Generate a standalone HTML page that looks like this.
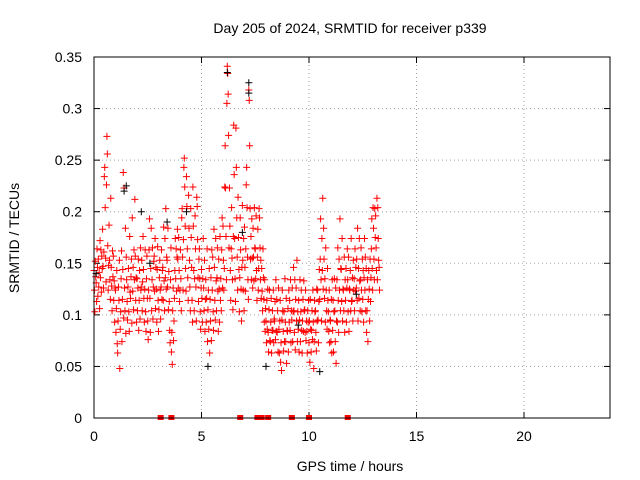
<!DOCTYPE html>
<html><head><meta charset="utf-8"><style>
body{margin:0;background:#fff}
svg{display:block;font-family:"Liberation Sans",sans-serif}
</style></head><body>
<svg id="c" width="640" height="480">
<rect width="640" height="480" fill="#fff"/>
<text x="350" y="33" text-anchor="middle" font-size="14">Day 205 of 2024, SRMTID for receiver p339</text>
<text x="350" y="471" text-anchor="middle" font-size="14">GPS time / hours</text>
<text transform="translate(19,238) rotate(-90)" text-anchor="middle" font-size="14">SRMTID / TECUs</text>
<g id="grid"></g><g id="axes"></g><g id="marks"></g>
<rect x="94" y="57" width="516" height="361" fill="none" stroke="#000" stroke-width="1"/>
</svg>
<script>
const xTicks=[0,5,10,15,20];
const yTicks=[0,0.05,0.1,0.15,0.2,0.25,0.3,0.35];
const yTickLabels=["0","0.05","0.1","0.15","0.2","0.25","0.3","0.35"];
const binStart=0.0, binStep=0.1;
const redBins=[
[.143,.124,.103,.152,.137],[.131,.113,.164,.146,.118],[.154,.127,.141,.106,.172],[.136,.163,.122,.157,.145],[.183,.147,.126,.161,.234],
[.243,.204,.155,.132,.226],[.273,.256,.167,.124,.148],[.187,.153,.134,.115,.213],[.146,.128,.104,.162,.137],[.157,.114,.133,.093,.126],
[.124,.083,.106,.143,.072],[.063,.094,.127,.114,.153],[.048,.086,.103,.135,.162],[.074,.115,.144,.238,.097],[.223,.126,.104,.184,.082],
[.156,.134,.113,.095,.127],[.145,.103,.084,.176,.122],[.116,.137,.154,.092,.194],[.123,.146,.105,.163,.134],[.212,.157,.114,.136,.093],
[.135,.104,.126,.154,.085],[.114,.143,.096,.165,.124],[.127,.153,.104,.132,.176],[.144,.116,.093,.125,.163],[.103,.084,.135,.157,.116],
[.094,.076,.124,.163,.193],[.116,.083,.145,.184,.104],[.134,.165,.096,.127,.152],[.157,.123,.174,.106,.146],[.125,.093,.144,.166,.114],
[.084,.105,.136,.153,.124],[.096,.127,.163,.115,.143],[.146,.114,.185,.133,.104],[.174,.136,.203,.125,.156],[.153,.127,.184,.105,.142],
[.113,.085,.073,.134,.165],[.064,.083,.052,.104,.126],[.075,.094,.116,.143,.174],[.135,.164,.123,.156,.183],[.154,.126,.175,.143,.113],
[.124,.163,.135,.104,.194],[.203,.156,.124,.173,.243],[.252,.224,.186,.145,.123],[.234,.205,.164,.136,.114],[.216,.184,.153,.127,.104],
[.203,.175,.146,.114,.093],[.224,.186,.143,.104,.135],[.196,.164,.127,.094,.214],[.205,.173,.136,.113,.154],[.164,.135,.103,.086,.126],
[.144,.116,.093,.135,.174],[.126,.104,.153,.084,.115],[.134,.093,.116,.164,.074],[.105,.124,.086,.145,.063],[.115,.094,.136,.075,.163],
[.124,.156,.103,.085,.183],[.146,.114,.095,.174,.133],[.104,.136,.165,.123,.084],[.154,.125,.093,.176,.114],[.135,.104,.163,.194,.126],
[.186,.153,.124,.145,.224],[.264,.223,.176,.134,.305],[.341,.334,.314,.274,.165],[.223,.186,.143,.114,.164],[.204,.155,.134,.105,.176],
[.284,.236,.174,.135,.113],[.281,.243,.194,.156,.124],[.214,.175,.144,.103,.136],[.194,.163,.125,.094,.146],[.206,.153,.124,.174,.104],
[.185,.146,.123,.164,.226],[.243,.204,.156,.134,.115],[.318,.308,.264,.203,.154],[.176,.134,.193,.155,.126],[.184,.156,.133,.204,.165],
[.164,.135,.196,.143,.114],[.156,.183,.124,.145,.203],[.194,.165,.134,.153,.116],[.145,.123,.104,.164,.136],[.115,.093,.134,.084,.106],
[.094,.073,.114,.086,.125],[.083,.064,.105,.124,.075],[.074,.093,.116,.063,.085],[.104,.085,.124,.073,.096],[.094,.113,.076,.134,.084],
[.115,.083,.104,.064,.126],[.086,.063,.094,.114,.054],[.073,.046,.095,.124,.104],[.084,.065,.103,.074,.135],[.093,.074,.116,.053,.085],
[.084,.106,.064,.124,.093],[.114,.085,.134,.073,.104],[.095,.126,.074,.103,.146],[.104,.083,.134,.066,.115],[.126,.094,.153,.074,.103],
[.086,.114,.064,.095,.134],[.074,.103,.124,.085,.063],[.094,.115,.084,.133,.104],[.105,.083,.124,.075,.094],[.084,.063,.104,.093,.114],
[.073,.094,.054,.115,.086],[.064,.085,.104,.076,.124],[.093,.048,.074,.114,.103],[.104,.083,.065,.125,.094],[.124,.095,.073,.113,.144],
[.115,.154,.193,.134,.094],[.174,.143,.213,.125,.184],[.154,.116,.135,.093,.165],[.124,.104,.086,.145,.114],[.103,.084,.124,.073,.095],
[.094,.074,.115,.063,.134],[.085,.114,.064,.103,.135],[.104,.074,.126,.053,.094],[.134,.093,.165,.114,.083],[.154,.124,.193,.104,.145],
[.144,.113,.174,.094,.125],[.124,.104,.156,.083,.134],[.114,.145,.093,.126,.164],[.134,.103,.156,.084,.125],[.124,.143,.104,.174,.113],
[.114,.136,.094,.153,.124],[.135,.104,.164,.123,.146],[.126,.154,.114,.184,.094],[.145,.116,.174,.133,.104],[.134,.165,.124,.103,.154],
[.115,.143,.093,.136,.174],[.124,.156,.104,.145,.083],[.104,.134,.074,.115,.143],[.125,.094,.154,.113,.136],[.164,.193,.145,.124,.204],
[.184,.154,.134,.203,.175],[.196,.165,.143,.213,.134],[.204,.174,.153,.146,.124]];
const blackTimes=[0.1,1.4,1.5,2.2,3.4,4.3,5.3,6.2,6.9,7.2,7.2,8.0,10.5,12.2,2.6,9.5];
const blackVals=[.14,.22,.225,.20,.19,.20,.05,.335,.18,.325,.315,.05,.045,.12,.15,.09];
const zeroTimes=[3.1,3.6,6.8,7.6,7.8,8.1,9.2,10.0,11.8];

const X=t=>94+t*(516/24);
const Y=v=>418-v*(361/0.35);
const NS="http://www.w3.org/2000/svg";
const grid=document.getElementById('grid'),axes=document.getElementById('axes'),marks=document.getElementById('marks');
function mk(tag,attrs,parent){const e=document.createElementNS(NS,tag);for(const k in attrs)e.setAttribute(k,attrs[k]);parent.appendChild(e);return e;}
xTicks.forEach(t=>{
  const x=X(t);
  if(t>0){const g=mk('line',{x1:x,x2:x,y1:57,y2:418,stroke:'#a0a0a0','stroke-dasharray':'1,3'},grid);
  
  }
  mk('line',{x1:x,x2:x,y1:418,y2:412,stroke:'#000'},axes);
  mk('line',{x1:x,x2:x,y1:57,y2:63,stroke:'#000'},axes);
  const l=mk('text',{x:x,y:441,'text-anchor':'middle','font-size':14},axes);
  l.textContent=t;
  
  
});
yTicks.forEach((v,i)=>{
  const y=Y(v);
  if(v>0&&v<0.35){const g=mk('line',{x1:94,x2:610,y1:y,y2:y,stroke:'#a0a0a0','stroke-dasharray':'1,3'},grid);
  
  }
  mk('line',{x1:94,x2:100,y1:y,y2:y,stroke:'#000'},axes);
  mk('line',{x1:610,x2:604,y1:y,y2:y,stroke:'#000'},axes);
  const l=mk('text',{x:82,y:y+5,'text-anchor':'end','font-size':14},axes);
  l.textContent=yTickLabels[i];
  
  
});
function plus(t,v,color,name){
  const x=X(t),y=Y(v);
  const p=mk('path',{d:`M${x-3.5},${y}H${x+3.5}M${x},${y-3.5}V${y+3.5}`,stroke:color,'stroke-width':1,fill:'none'},marks);
  
  
}
redBins.forEach((vals,b)=>{
  const t0=binStart+b*binStep;
  vals.forEach((v,j)=>plus(t0+j*binStep/vals.length,v,'#ff0000','red-point'));
});
blackTimes.forEach((t,i)=>plus(t,blackVals[i],'#000000','black-point'));
zeroTimes.forEach(t=>{
  const x=X(t);
  const r=mk('rect',{x:x-3,y:Y(0)-3,width:6,height:5,fill:'#ff0000'},marks);
  
  
});
</script>
</body></html>
